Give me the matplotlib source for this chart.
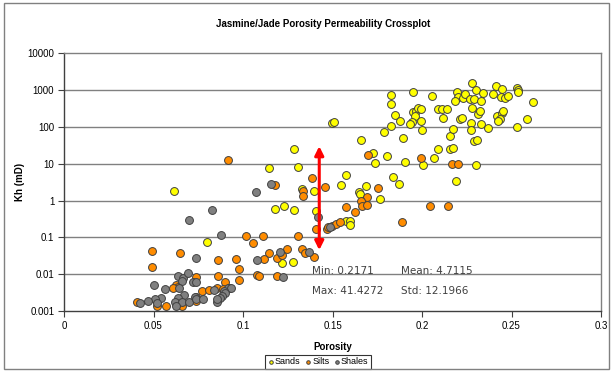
import matplotlib
matplotlib.use("Agg")
import numpy as np
import matplotlib.pyplot as plt
from matplotlib.patches import Rectangle
from matplotlib.ticker import FixedLocator, FixedFormatter

# porosity / permeability
sands_phi = [0.0616, 0.0797, 0.1287, 0.1147, 0.1309, 0.1575, 0.1328, 0.1397, 0.1547, 0.1687,
             0.165, 0.1654, 0.1765, 0.1179, 0.1229, 0.1283, 0.1406, 0.1573, 0.1598, 0.1598,
             0.122, 0.1278, 0.1497, 0.151, 0.1659, 0.1728, 0.1806, 0.1737, 0.184, 0.1869,
             0.1789, 0.1828, 0.1828, 0.1828, 0.1947, 0.2058, 0.1849, 0.1877, 0.1951, 0.1966,
             0.1979, 0.1993, 0.1961, 0.1993, 0.1946, 0.1933, 0.1998, 0.1896, 0.1906, 0.2007,
             0.2068, 0.2087, 0.2156, 0.2175, 0.2089, 0.211, 0.2138, 0.2119, 0.2158, 0.2172,
             0.219, 0.23, 0.2291, 0.231, 0.2278, 0.2194, 0.2199, 0.2231, 0.2184, 0.224,
             0.2268, 0.2288, 0.2327, 0.2302, 0.2338, 0.2278, 0.2311, 0.2322, 0.2274, 0.2328,
             0.2275, 0.2366, 0.2212, 0.2222, 0.2411, 0.2399, 0.2441, 0.2464, 0.2478, 0.2447,
             0.2417, 0.2445, 0.2453, 0.2436, 0.2425, 0.2529, 0.2538, 0.2538, 0.2529, 0.2588,
             0.2618]
sands_kh = [1.78, 0.077, 25.5, 7.6, 8.2, 5.1, 2.07, 1.78, 2.58, 2.52,
            1.75, 1.54, 1.13, 0.60, 0.70, 0.565, 0.53, 0.275, 0.275, 0.22,
            0.0207, 0.022, 130, 139, 43.7, 19.6, 16.7, 10.6, 4.48, 2.76,
            72, 105, 410, 735, 900, 690, 208, 144, 253, 270,
            333, 313, 197, 144, 137, 117, 84, 50, 11.1, 9.0,
            13.9, 25.6, 24.4, 27.1, 300, 313, 313, 178, 56, 90,
            3.48, 9.5, 41, 42.9, 1530, 910, 665, 625, 505, 769,
            586, 590, 505, 1007, 861, 333, 229, 270, 124, 122,
            83, 91, 160, 178, 1310, 769, 657, 625, 708, 1050,
            200, 244, 270, 160, 144, 1170, 1019, 871, 99, 160,
            474]

silts_phi = [0.0915, 0.1017, 0.1054, 0.0489, 0.0647, 0.0858, 0.096, 0.0489, 0.0978, 0.0858,
             0.1077, 0.1091, 0.0737, 0.0898, 0.0626, 0.0639, 0.0611, 0.0978, 0.0769, 0.081,
             0.0853, 0.089, 0.0923, 0.0737, 0.0642, 0.0652, 0.0406, 0.0517, 0.0568, 0.0658,
             0.0737, 0.1387, 0.1179, 0.1337, 0.1337, 0.1458, 0.17, 0.1756, 0.169, 0.1659,
             0.1666, 0.1691, 0.1575, 0.1626, 0.1997, 0.2166, 0.2199, 0.2047, 0.2147, 0.189,
             0.1408, 0.1468, 0.1477, 0.1496, 0.152, 0.1542, 0.1109, 0.1309, 0.1145, 0.1188,
             0.122, 0.1244, 0.1117, 0.1331, 0.1346, 0.1398, 0.1192]
silts_kh = [12.4, 0.112, 0.070, 0.042, 0.0376, 0.0245, 0.0258, 0.0161, 0.0137, 0.0091,
            0.0096, 0.0090, 0.0083, 0.0061, 0.0051, 0.0045, 0.0042, 0.0069, 0.0036, 0.0037,
            0.0041, 0.0039, 0.0043, 0.0019, 0.0020, 0.00168, 0.00173, 0.00141, 0.00137, 0.00137,
            0.00245, 4.0, 2.6, 1.86, 1.30, 2.39, 17.8, 2.25, 1.25, 0.96,
            0.70, 0.77, 0.66, 0.50, 14.5, 9.7, 9.7, 0.73, 0.73, 0.26,
            0.17, 0.17, 0.19, 0.207, 0.235, 0.26, 0.106, 0.106, 0.0388, 0.0273,
            0.0336, 0.048, 0.0261, 0.0489, 0.0373, 0.030, 0.0092]

shales_phi = [0.1071, 0.0827, 0.07, 0.0877, 0.0736, 0.108, 0.0639, 0.0666, 0.069, 0.0659,
              0.0718, 0.0736, 0.0503, 0.0564, 0.0642, 0.0916, 0.0935, 0.084, 0.0894, 0.0899,
              0.0881, 0.0869, 0.0856, 0.067, 0.0639, 0.062, 0.0658, 0.0543, 0.0508, 0.0472,
              0.0426, 0.07, 0.073, 0.074, 0.0778, 0.0853, 0.0623, 0.0518, 0.1155, 0.1421,
              0.1488, 0.1207, 0.137, 0.1225]
shales_kh = [1.71, 0.55, 0.30, 0.113, 0.027, 0.0245, 0.0090, 0.0081, 0.0106, 0.0066,
             0.0061, 0.0061, 0.0050, 0.0039, 0.0042, 0.0043, 0.0042, 0.0037, 0.0036, 0.0030,
             0.0026, 0.0022, 0.0018, 0.0027, 0.0022, 0.0018, 0.0018, 0.00226, 0.00208, 0.0019,
             0.00162, 0.0018, 0.0024, 0.0021, 0.0021, 0.00212, 0.00141, 0.00168, 2.8, 0.36,
             0.188, 0.041, 0.041, 0.0083]

stats_lines = [("Min: 0.2171", "Mean: 4.7115"), ("Max: 41.4272", "Std: 12.1966")]
arrow_phi = 0.1426
arrow_lo, arrow_hi = 0.045, 30.0

y_ticks = [0.001, 0.01, 0.1, 1, 10, 100, 1000, 10000]
y_labels = ["0.001", "0.01", "0.1", "1", "10", "100", "1000", "10000"]
x_ticks = [0, 0.05, 0.1, 0.15, 0.2, 0.25, 0.3]
x_labels = ["0", "0.05", "0.1", "0.15", "0.2", "0.25", "0.3"]

plt.rcParams["font.family"] = ["Liberation Sans", "DejaVu Sans"]

fig = plt.figure(figsize=(6.13, 3.73), dpi=100)
ax = fig.add_axes([64 / 613, 1 - 311 / 373, 537 / 613, 257.7 / 373])

ax.set_yscale("log")
ax.set_xlim(0, 0.3)
ax.set_ylim(0.001, 10000)

for y in y_ticks[1:-1]:
    ax.axhline(y, color="#808080", lw=1.0, zorder=1)

mk = dict(s=32, edgecolors="#404040", linewidths=0.7, zorder=3)
ax.scatter(sands_phi, sands_kh, c="#FFFF00", label="Sands", **mk)
ax.scatter(silts_phi, silts_kh, c="#FF8C00", label="Silts", **mk)
ax.scatter(shales_phi, shales_kh, c="#808080", label="Shales", **mk)

ax.annotate("", xy=(arrow_phi, arrow_hi), xytext=(arrow_phi, arrow_lo),
            arrowprops=dict(arrowstyle="<|-|>", color="red", lw=2.2,
                            mutation_scale=13, shrinkA=0, shrinkB=0),
            zorder=5)

ax.text(0.1384, 0.0102, stats_lines[0][0], family="DejaVu Sans", fontsize=7.5,
        color="#404040", va="baseline", zorder=6)
ax.text(0.1881, 0.0102, stats_lines[0][1], family="DejaVu Sans", fontsize=7.5,
        color="#404040", va="baseline", zorder=6)
ax.text(0.1384, 0.0029, stats_lines[1][0], family="DejaVu Sans", fontsize=7.5,
        color="#404040", va="baseline", zorder=6)
ax.text(0.1881, 0.0029, stats_lines[1][1], family="DejaVu Sans", fontsize=7.5,
        color="#404040", va="baseline", zorder=6)

ax.yaxis.set_major_locator(FixedLocator(y_ticks))
ax.yaxis.set_major_formatter(FixedFormatter(y_labels))
ax.yaxis.set_minor_locator(FixedLocator([]))
ax.set_xticks(x_ticks)
ax.set_xticklabels(x_labels)
ax.tick_params(axis="both", direction="out", length=4, width=0.8, labelsize=7,
               color="#404040", labelcolor="black", pad=3)

for side in ["top", "right"]:
    ax.spines[side].set_color("#808080")
for side in ["left", "bottom"]:
    ax.spines[side].set_color("#404040")
for sp in ax.spines.values():
    sp.set_linewidth(1.0)

ax.set_xlabel("Porosity", fontsize=7, fontweight="bold", labelpad=8)
fig.text(20 / 613, 1 - 182 / 373, "Kh (mD)", rotation=90, ha="center", va="center",
         fontsize=7, fontweight="bold")
fig.text(323 / 613, 1 - 24 / 373, "Jasmine/Jade Porosity Permeability Crossplot",
         ha="center", va="center", fontsize=7, fontweight="bold")

leg = ax.legend(loc="center", bbox_to_anchor=(318 / 613, 1 - 362 / 373),
                bbox_transform=fig.transFigure, ncol=3, fontsize=6.5,
                frameon=True, fancybox=False, edgecolor="black",
                handletextpad=0.1, columnspacing=0.5, borderpad=0.3,
                handlelength=0.7, markerscale=0.45)
leg.get_frame().set_linewidth(0.8)

fig.patches.append(Rectangle((4 / 613, 4 / 373), 605 / 613, 366 / 373,
                             transform=fig.transFigure, fill=False,
                             edgecolor="#808080", lw=1.0))

fig.savefig("out.png", dpi=100)
